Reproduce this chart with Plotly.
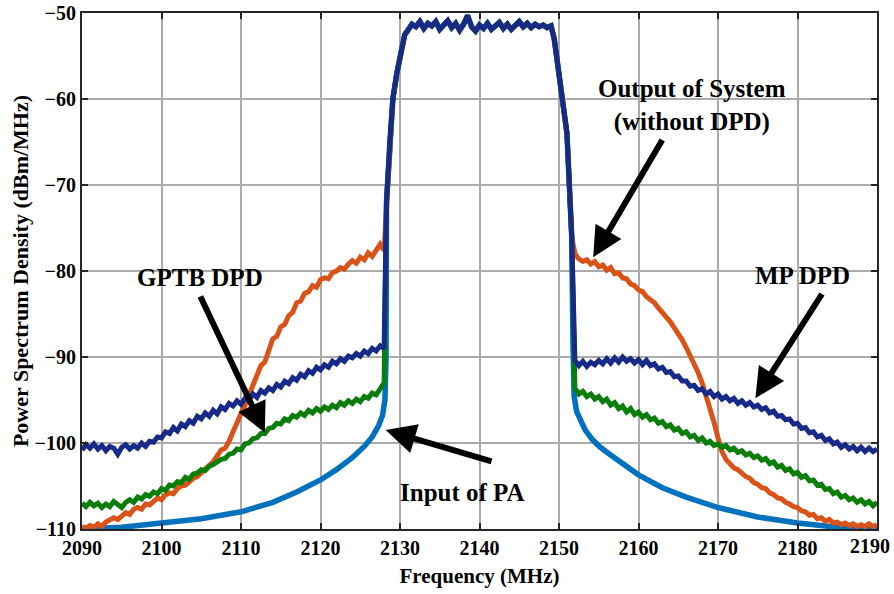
import numpy as np
import plotly.graph_objects as go

# ---------------- data ----------------
freq_left = np.round(np.arange(2090.0, 2128.01, 0.5), 1)    # 77 points
freq_band = np.round(np.arange(2131.0, 2149.01, 0.5), 1)    # 37 points
freq_right = np.round(np.arange(2152.0, 2190.01, 0.5), 1)   # 77 points

edge_left_freq = [2128.3, 2128.7, 2129.1, 2129.6, 2130.1, 2130.6]
edge_left_psd = [-72.0, -65.0, -60.0, -57.0, -54.5, -52.5]
edge_right_freq = [2149.4, 2149.9, 2150.5, 2151.0, 2151.3, 2151.6]
edge_right_psd = [-53.0, -56.3, -60.0, -64.0, -70.0, -76.0]

psd_band = [-52.0, -51.3, -51.6, -51.0, -51.8, -51.2, -51.5, -51.0, -51.9, -51.4,
            -50.9, -51.7, -51.2, -52.0, -51.3, -50.3, -51.6, -52.1, -51.4, -51.8,
            -51.2, -51.9, -51.5, -51.1, -51.8, -51.3, -51.9, -51.4, -51.0, -51.6,
            -51.2, -51.7, -51.3, -51.6, -51.4, -51.7, -51.5]

# Output of system without DPD (orange)
out_left = [-109.7, -109.9, -109.6, -109.8, -109.4, -109.7, -109.2, -109.0, -108.7, -108.9,
            -108.4, -108.1, -108.3, -107.7, -107.5, -107.7, -107.1, -107.2, -106.8, -106.4,
            -106.6, -106.0, -105.8, -105.9, -105.3, -105.0, -104.9, -104.4, -104.1, -103.9,
            -103.4, -103.0, -102.6, -102.2, -101.4, -100.8, -100.6, -99.8, -98.7, -97.5,
            -96.6, -95.6, -94.4, -93.2, -92.3, -91.0, -90.6, -89.0, -87.9, -87.6,
            -86.5, -86.2, -85.2, -84.8, -83.7, -83.5, -82.6, -82.4, -81.7, -81.9,
            -81.0, -80.8, -80.9, -80.2, -80.0, -79.6, -79.8, -79.2, -78.8, -79.1,
            -78.4, -78.7, -77.9, -78.3, -77.5, -76.9, -77.6]
out_right = [-78.0, -78.6, -78.9, -78.7, -79.2, -78.9, -79.5, -79.3, -79.9, -79.6,
             -80.3, -80.2, -80.8, -80.9, -81.5, -81.7, -82.2, -82.4, -83.0, -83.4,
             -83.7, -84.3, -84.8, -85.3, -85.9, -86.6, -87.2, -88.0, -88.9, -89.8,
             -90.7, -91.8, -93.0, -94.4, -95.8, -97.6, -99.4, -101.0, -101.9, -102.4,
             -102.9, -103.1, -103.6, -103.9, -104.1, -104.6, -104.8, -105.2, -105.3, -105.8,
             -106.0, -106.4, -106.5, -106.9, -107.1, -107.4, -107.5, -107.9, -108.0, -108.4,
             -108.3, -108.8, -108.7, -109.1, -108.9, -109.3, -109.2, -109.5, -109.3, -109.6,
             -109.4, -109.7, -109.5, -109.7, -109.4, -109.7, -109.5]

# GPTB DPD (green)
gptb_left = [-107.0, -107.4, -106.9, -107.3, -107.0, -107.5, -107.1, -107.4, -106.8, -107.2,
             -107.5, -106.9, -106.6, -106.9, -106.3, -106.5, -106.0, -106.2, -105.7, -105.9,
             -105.3, -105.5, -104.9, -105.0, -104.5, -104.6, -104.0, -104.2, -103.6, -103.5,
             -103.1, -103.2, -102.7, -102.5, -102.2, -101.9, -101.8, -101.3, -101.2, -100.7,
             -100.8, -100.1, -100.0, -99.5, -99.4, -98.9, -98.9, -98.3, -98.2, -97.7,
             -97.8, -97.2, -97.4, -96.8, -97.0, -96.5, -96.8, -96.2, -96.5, -96.0,
             -96.3, -95.8, -96.1, -95.6, -95.9, -95.3, -95.6, -95.1, -95.4, -94.9,
             -95.2, -94.6, -94.8, -94.2, -94.4, -93.6, -93.0]
gptb_right = [-93.6, -94.3, -94.0, -94.6, -94.3, -94.9, -94.6, -95.2, -94.9, -95.6,
              -95.3, -96.0, -95.7, -96.4, -96.0, -96.7, -96.4, -97.0, -96.7, -97.3,
              -97.1, -97.7, -97.5, -98.1, -97.9, -98.5, -98.3, -98.9, -98.7, -99.3,
              -99.1, -99.7, -99.4, -100.0, -99.8, -100.3, -100.1, -100.5, -100.3, -100.8,
              -100.6, -101.1, -100.9, -101.4, -101.2, -101.7, -101.5, -102.0, -101.8, -102.4,
              -102.2, -102.8, -102.6, -103.2, -103.0, -103.6, -103.4, -104.0, -103.8, -104.4,
              -104.3, -104.9, -104.8, -105.4, -105.3, -105.9, -105.7, -106.3, -106.1, -106.6,
              -106.4, -106.9, -106.6, -107.1, -106.8, -107.3, -106.9]

# MP DPD (navy)
mp_left = [-100.8, -100.2, -100.6, -100.1, -100.7, -100.3, -100.9, -100.4, -100.6, -101.3,
           -100.5, -100.2, -100.7, -100.3, -100.6, -100.0, -100.4, -99.8, -99.9, -99.3,
           -99.4, -98.7, -98.9, -98.2, -98.6, -97.8, -98.1, -97.4, -97.7, -96.9,
           -97.2, -96.5, -96.9, -96.2, -96.6, -95.8, -96.1, -95.4, -95.7, -95.1,
           -95.5, -94.8, -95.0, -94.3, -94.7, -93.9, -94.2, -93.6, -93.9, -93.2,
           -93.5, -92.8, -93.1, -92.4, -92.7, -92.0, -92.3, -91.6, -91.9, -91.2,
           -91.5, -90.9, -91.2, -90.5, -90.8, -90.2, -90.5, -89.9, -90.1, -89.6,
           -89.9, -89.3, -89.6, -89.0, -89.3, -88.7, -89.0]
mp_right = [-90.4, -91.0, -90.5, -91.1, -90.6, -90.9, -90.4, -90.8, -90.2, -90.7,
            -90.1, -90.6, -90.0, -90.5, -90.2, -90.7, -90.3, -90.9, -90.4, -91.0,
            -90.8, -91.4, -91.2, -91.8, -91.7, -92.3, -92.2, -92.8, -92.8, -93.4,
            -93.3, -93.9, -93.7, -94.3, -94.0, -94.6, -94.3, -94.9, -94.6, -95.1,
            -94.8, -95.4, -95.1, -95.6, -95.3, -95.8, -95.6, -96.1, -95.9, -96.5,
            -96.3, -96.9, -96.8, -97.3, -97.2, -97.8, -97.7, -98.3, -98.2, -98.8,
            -98.7, -99.3, -99.1, -99.7, -99.5, -100.1, -99.9, -100.5, -100.2, -100.7,
            -100.4, -100.9, -100.5, -101.0, -100.6, -101.0, -100.7]

# Input of PA (light blue)
input_left_freq = [2090, 2095, 2100, 2105, 2110, 2114, 2117, 2120, 2122, 2124,
                   2125.5, 2126.5, 2127.3, 2127.8, 2128.1, 2128.25]
input_left_psd = [-110.0, -109.8, -109.3, -108.8, -108.0, -106.9, -105.7, -104.3, -103.1, -101.7,
                  -100.4, -99.3, -98.0, -96.8, -95.0, -90.0]
input_right_freq = [2151.75, 2151.9, 2152.2, 2152.7, 2153.3, 2154.2, 2155.2, 2156.5, 2158, 2160,
                    2163, 2166, 2170, 2175, 2180, 2185, 2190]
input_right_psd = [-88.0, -94.5, -96.3, -97.5, -98.5, -99.6, -100.5, -101.4, -102.4, -103.7,
                   -105.2, -106.3, -107.5, -108.6, -109.3, -109.8, -110.0]

x_ticks = [2090, 2100, 2110, 2120, 2130, 2140, 2150, 2160, 2170, 2180, 2190]
x_tick_labels = ["2090", "2100", "2110", "2120", "2130", "2140", "2150", "2160", "2170", "2180", "2190"]
y_ticks = [-110, -100, -90, -80, -70, -60, -50]

# ---------------- figure ----------------
def full_series(left_f, left_p, right_f, right_p):
    f = list(left_f) + edge_left_freq + list(freq_band) + edge_right_freq + list(right_f)
    p = list(left_p) + edge_left_psd + psd_band + edge_right_psd + list(right_p)
    return f, p

FONT = "Liberation Serif, Times New Roman, serif"
fig = go.Figure()

series = [
    ("Input of PA", input_left_freq, input_left_psd, input_right_freq, input_right_psd, "#0072BD", 5.5),
    ("Output of System", freq_left, out_left, freq_right, out_right, "#D95319", 5),
    ("GPTB DPD", freq_left, gptb_left, freq_right, gptb_right, "#0B7D0B", 5),
    ("MP DPD", freq_left, mp_left, freq_right, mp_right, "#172A88", 5),
]
for name, lf, lp, rf, rp, col, w in series:
    f, p = full_series(lf, lp, rf, rp)
    fig.add_trace(go.Scatter(x=f, y=p, mode="lines", name=name,
                             line=dict(color=col, width=w), showlegend=False))

arrows = [
    # text, text_x, text_y, tail_x, tail_y, tip_x, tip_y
    ("GPTB DPD", 2104.8, -80.8, 2104.8, -82.8, 2113.0, -98.8),
    ("Input of PA", 2137.9, -105.8, 2141.7, -102.2, 2128.2, -98.5),
    ("Output of System<br>(without DPD)", 2166.7, -60.7, 2163.1, -64.6, 2154.3, -78.4),
    ("MP DPD", 2180.6, -80.5, 2183.2, -82.5, 2174.7, -94.8),
]
for text, tx, ty, ax_, ay_, hx, hy in arrows:
    fig.add_annotation(x=hx, y=hy, ax=ax_, ay=ay_, axref="x", ayref="y", xref="x", yref="y",
                       text="", showarrow=True, arrowhead=2, arrowsize=1.0,
                       arrowwidth=6, arrowcolor="black", standoff=0, startstandoff=0)
    fig.add_annotation(x=tx, y=ty, xref="x", yref="y", text=text, showarrow=False,
                       font=dict(family=FONT, size=25, color="black", weight="bold"),
                       align="center")

TICKFONT = dict(family=FONT, size=20, color="black", weight="bold")
axis_common = dict(showgrid=True, gridcolor="#ABABAB", gridwidth=2,
                   showline=True, linecolor="#262626", linewidth=2, mirror="ticks",
                   ticks="inside", ticklen=6, tickwidth=2, tickcolor="#262626",
                   zeroline=False, tickfont=TICKFONT)

# last x label is nudged left (as in the reference) so it stays inside the picture
fig.update_xaxes(range=[2090, 2190], tickvals=x_ticks, ticktext=x_tick_labels[:-1] + [""],
                 **axis_common,
                 title=dict(text="Frequency (MHz)", standoff=10,
                            font=dict(family=FONT, size=21, color="black", weight="bold")))
fig.add_annotation(x=x_ticks[-1], y=0, xref="x", yref="paper", text=x_tick_labels[-1],
                   showarrow=False, xanchor="center", yanchor="top", xshift=-7, yshift=-4,
                   font=TICKFONT)
fig.update_yaxes(range=[-110, -50], tickvals=y_ticks, **axis_common,
                 title=dict(text="Power Spectrum Density (dBm/MHz)", standoff=0,
                            font=dict(family=FONT, size=22, color="black", weight="bold")))

fig.update_layout(width=894, height=594, margin=dict(l=82, r=17, t=13, b=65, autoexpand=False),
                  paper_bgcolor="white", plot_bgcolor="white",
                  font=dict(family=FONT, color="black"))

fig.write_html("out.html", config={"displayModeBar": False},
               post_script="document.body.style.margin='0';")
